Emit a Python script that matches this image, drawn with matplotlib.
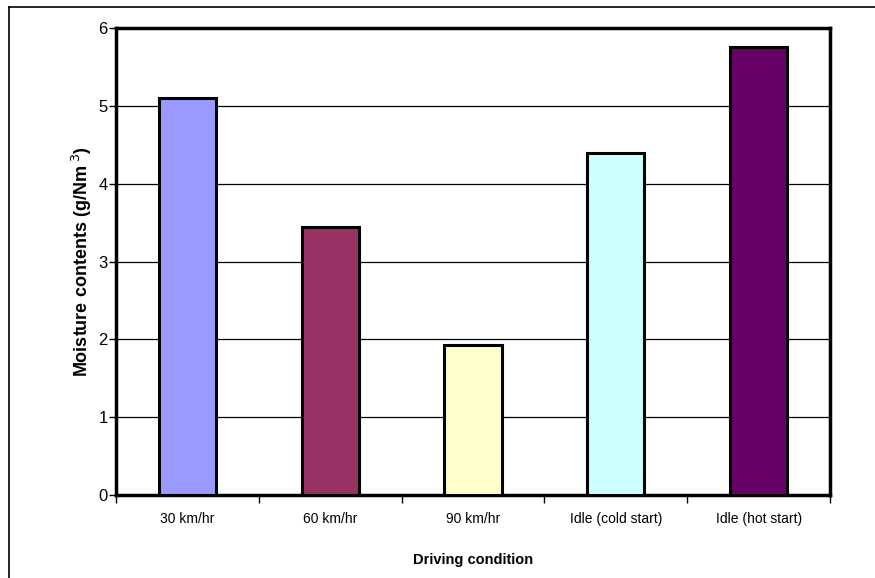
import matplotlib

matplotlib.use("Agg")

import matplotlib.pyplot as plt
from matplotlib.lines import Line2D

# dados
condicoes = ["30 km/hr", "60 km/hr", "90 km/hr", "Idle (cold start)", "Idle (hot start)"]
umidade = [5.10, 3.44, 1.93, 4.40, 5.75]
cores = ["#9999FF", "#993366", "#FFFFCC", "#CCFFFF", "#660066"]
y_ticks = [0, 1, 2, 3, 4, 5, 6]

plt.rcParams["font.family"] = ["Liberation Sans Narrow", "Liberation Sans", "DejaVu Sans"]

fig = plt.figure(figsize=(8.75, 5.78), dpi=100)
ax = fig.add_axes([116 / 875, 1 - 495 / 578, (830 - 116) / 875, (495 - 28) / 578])

posicoes = list(range(len(condicoes)))
ax.bar(posicoes, umidade, width=0.4, color=cores, edgecolor="black", linewidth=2.2, zorder=3)

ax.set_xlim(-0.5, len(condicoes) - 0.5)
ax.set_ylim(0, 6)
ax.set_yticks(y_ticks)
ax.grid(axis="y", color="black", linewidth=0.9, zorder=0)

# rótulos das categorias sem marcas, marcas nas divisões
ax.set_xticks(posicoes)
ax.set_xticklabels(condicoes, fontsize=10)
ax.tick_params(axis="x", length=0, pad=12)
ax.set_xticks([p - 0.5 for p in range(len(condicoes) + 1)], minor=True)
ax.tick_params(axis="x", which="minor", length=6, width=1, direction="out")
ax.tick_params(axis="y", labelsize=12, length=5, width=1, pad=1)

for lado in ["top", "right", "left", "bottom"]:
    ax.spines[lado].set_linewidth(2.5)

ax.set_ylabel("Moisture contents (g/Nm$^{\\ 3}$)", fontsize=13, fontweight="bold",
              family=["Liberation Sans", "DejaVu Sans"], labelpad=3)
ax.set_xlabel("Driving condition", fontsize=10.5, fontweight="bold", labelpad=20)

# moldura externa (somente topo e esquerda visíveis)
fig.add_artist(Line2D([9 / 875, 1], [1 - 7 / 578, 1 - 7 / 578], color="black", linewidth=1.2,
                      transform=fig.transFigure))
fig.add_artist(Line2D([9 / 875, 9 / 875], [0, 1 - 7 / 578], color="black", linewidth=1.2,
                      transform=fig.transFigure))

fig.savefig("out.png", dpi=100)
plt.close(fig)
